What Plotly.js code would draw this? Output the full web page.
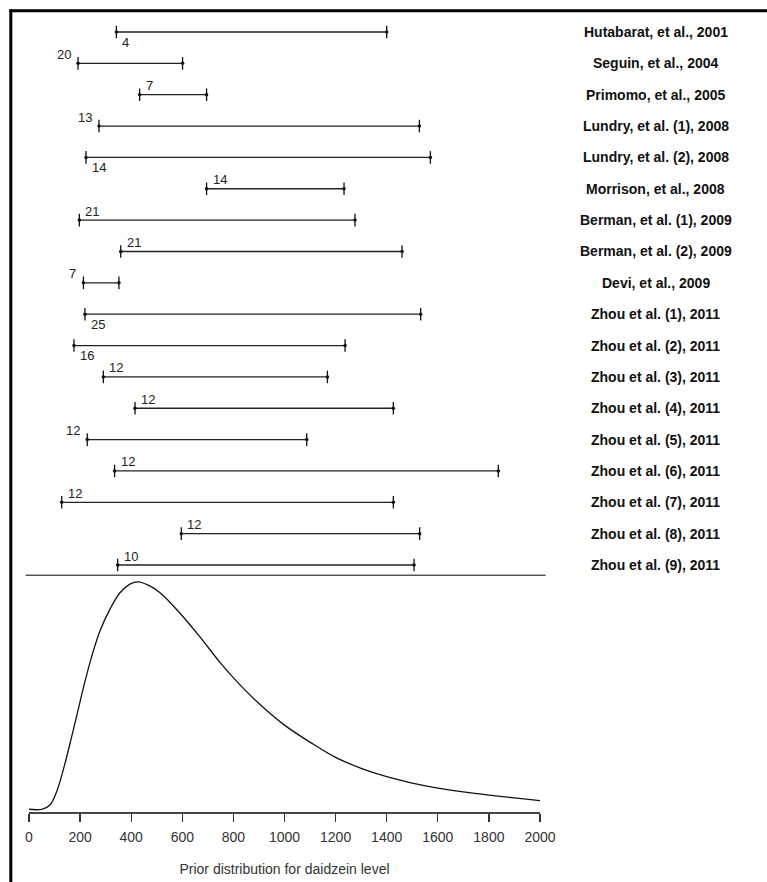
<!DOCTYPE html>
<html>
<head>
<meta charset="utf-8">
<script src="https://cdn.plot.ly/plotly-3.0.1.min.js"></script>
<style>
  html, body { margin: 0; padding: 0; background: #fff; }
  #chart { width: 767px; height: 882px; }
</style>
</head>
<body>
<div id="chart"></div>
<script>
// ---- data ----
const studies = [
  "Hutabarat, et al., 2001", "Seguin, et al., 2004", "Primomo, et al., 2005",
  "Lundry, et al. (1), 2008", "Lundry, et al. (2), 2008", "Morrison, et al., 2008",
  "Berman, et al. (1), 2009", "Berman, et al. (2), 2009", "Devi, et al., 2009",
  "Zhou et al. (1), 2011", "Zhou et al. (2), 2011", "Zhou et al. (3), 2011",
  "Zhou et al. (4), 2011", "Zhou et al. (5), 2011", "Zhou et al. (6), 2011",
  "Zhou et al. (7), 2011", "Zhou et al. (8), 2011", "Zhou et al. (9), 2011"
];
const lows  = [342, 192, 433, 274, 223, 695, 197, 359, 213, 219, 176, 291, 415, 228, 335, 128, 596, 347];
const highs = [1400, 601, 695, 1528, 1571, 1233, 1276, 1460, 352, 1533, 1237, 1168, 1426, 1087, 1837, 1426, 1529, 1507];
const sampleSizes = [4, 20, 7, 13, 14, 14, 21, 21, 7, 25, 16, 12, 12, 12, 12, 12, 12, 10];

// prior density curve (relative height, peak = 1)
const densX = [0, 50, 82, 108, 134, 167, 193, 213, 245, 278, 317, 356, 395, 428, 467, 513, 591, 669, 748, 826, 900, 1000, 1100, 1200, 1300, 1400, 1500, 1600, 1700, 1800, 1900, 2000];
const densY = [0, 0, 0.019, 0.077, 0.173, 0.319, 0.44, 0.535, 0.67, 0.785, 0.88, 0.952, 0.99, 1.0, 0.985, 0.952, 0.862, 0.758, 0.645, 0.547, 0.465, 0.37, 0.295, 0.228, 0.18, 0.143, 0.115, 0.093, 0.076, 0.062, 0.05, 0.038];

const xTicks = [0, 200, 400, 600, 800, 1000, 1200, 1400, 1600, 1800, 2000];

// ---- style: where each sample-size label sits relative to the left end ----
const labelPlace = ["br","al","ar","al","br","ar","ar","ar","al","br","br","ar","ar","al","ar","ar","ar","ar"];

// ---- build traces ----
const rows = studies.map((_, i) => i);
const segX = [], segY = [];
rows.forEach(i => { segX.push(lows[i], highs[i], null); segY.push(i, i, null); });
const endX = lows.concat(highs);
const endY = rows.concat(rows);

const FONT = "Liberation Sans, Arial, sans-serif";

const traces = [
  { x: segX, y: segY, xaxis: "x", yaxis: "y2", mode: "lines",
    line: { color: "#222", width: 1.3 }, hoverinfo: "skip", showlegend: false },
  { x: endX, y: endY, xaxis: "x", yaxis: "y2", mode: "markers",
    marker: { symbol: "line-ns-open", size: 9, color: "#111", line: { color: "#111", width: 1.3 } },
    hoverinfo: "skip", showlegend: false },
  { x: endX, y: endY, xaxis: "x", yaxis: "y2", mode: "markers",
    marker: { symbol: "circle", size: 3.5, color: "#111" },
    hoverinfo: "skip", showlegend: false },
  { x: densX, y: densY, xaxis: "x", yaxis: "y", mode: "lines",
    line: { color: "#111", width: 1.3, shape: "spline", smoothing: 1 },
    hoverinfo: "skip", showlegend: false }
];

const annotations = [];
rows.forEach(i => {
  const p = labelPlace[i];
  const a = { x: lows[i], y: i, xref: "x", yref: "y2", text: String(sampleSizes[i]),
    showarrow: false, yanchor: "middle",
    font: { family: FONT, size: 13, color: "#222" } };
  if (p === "ar") { a.xanchor = "left"; a.xshift = 4; a.yshift = 9; }
  else if (p === "br") { a.xanchor = "left"; a.xshift = 4; a.yshift = -10; }
  else { a.xanchor = "right"; a.xshift = -5; a.yshift = 9; }
  annotations.push(a);
  annotations.push({ x: 1.227, xref: "paper", y: i, yref: "y2", text: studies[i],
    showarrow: false, xanchor: "center", yanchor: "middle",
    font: { family: FONT, size: 14, color: "#111", weight: "bold" } });
});

const layout = {
  width: 767, height: 882,
  margin: { l: 29, r: 227, t: 12, b: 70 },
  paper_bgcolor: "#fff", plot_bgcolor: "#fff",
  showlegend: false,
  xaxis: {
    range: [0, 2000], anchor: "y", tickvals: xTicks, ticktext: xTicks.map(String),
    ticks: "outside", ticklen: 8, tickwidth: 1.3, tickcolor: "#333",
    ticklabelstandoff: 4,
    showline: true, linecolor: "#444", linewidth: 1.5,
    showgrid: false, zeroline: false,
    tickfont: { family: FONT, size: 14, color: "#333" },
    title: { text: "Prior distribution for daidzein level", standoff: 20,
      font: { family: FONT, size: 14, color: "#333" } }
  },
  yaxis: { domain: [0, 0.296], range: [-0.012, 1.029], visible: false, fixedrange: true },
  yaxis2: { domain: [0.3, 1], range: [17.223, -0.638], visible: false, anchor: "x" },
  annotations: annotations,
  shapes: [
    { type: "line", xref: "paper", yref: "paper", x0: -0.0065, x1: 1.011, y0: 0.296, y1: 0.296,
      line: { color: "#555", width: 1.5 } },
    { type: "line", xref: "paper", yref: "paper", x0: -0.0356, x1: -0.0356, y0: -0.2, y1: 1.003,
      line: { color: "#000", width: 3 } },
    { type: "line", xref: "paper", yref: "paper", x0: -0.0385, x1: 1.6, y0: 1.0016, y1: 1.0016,
      line: { color: "#000", width: 3 } }
  ]
};

Plotly.newPlot("chart", traces, layout, { displayModeBar: false, staticPlot: true });
</script>
</body>
</html>
